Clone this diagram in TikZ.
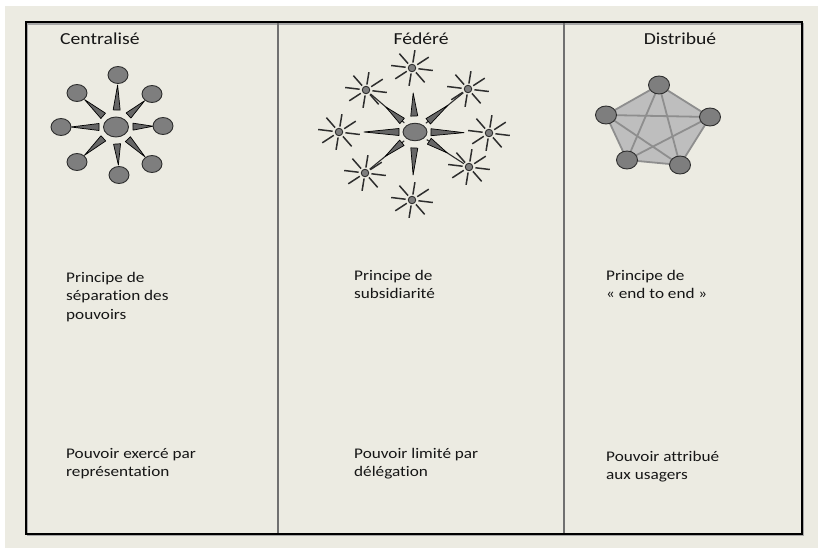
\documentclass[tikz,border=0pt]{standalone}
\usepackage{fontspec}
\setmainfont{Carlito}[FakeStretch=1.17, Ligatures=NoCommon]
\usetikzlibrary{calc,shapes.geometric}
\definecolor{bgbeige}{HTML}{ECEBE2}
\definecolor{nodegray}{HTML}{7E7E7E}
\definecolor{edgedark}{HTML}{2E2E2E}
\definecolor{txtcol}{HTML}{161616}
\definecolor{pentafill}{HTML}{BEBEBE}
\definecolor{linkgray}{HTML}{8E8E8E}
\definecolor{divgray}{HTML}{707070}
\definecolor{wedgefill}{HTML}{666666}
\pgfdeclarelayer{backlayer}
\pgfdeclarelayer{linklayer}
\pgfsetlayers{backlayer,linklayer,main}
\tikzset{
  ball/.style={ellipse, draw=edgedark, fill=nodegray, line width=0.9pt, inner sep=0pt,
    minimum width=20pt, minimum height=17pt},
  bigball/.style={ball, minimum width=25pt, minimum height=20pt},
  fedball/.style={ball, minimum width=24pt, minimum height=17.5pt},
  distball/.style={ball, minimum width=21pt, minimum height=18pt},
  starhub/.style={circle, draw=edgedark, fill=nodegray, line width=0.9pt, inner sep=0pt, minimum size=7.5pt},
  starray/.style={draw=edgedark, line width=1.5pt},
  wedgestyle/.style={fill=wedgefill, draw=black, line width=0.7pt, line join=round},
  conn/.style={draw=edgedark, line width=1.1pt},
  link/.style={draw=linkgray, line width=1.8pt},
  title/.style={font=\fontsize{16.8}{20}\selectfont, text=txtcol, inner sep=0pt},
  body/.style={font=\fontsize{14.7}{18.4}\selectfont, text=txtcol, inner sep=0pt, anchor=north west, align=left},
}
\newcommand\wedgeto[6]{% center, target, base dist from center, apex dist from target, half width
  \path ($(#1)!#3!(#2)$) coordinate (wb) ($(#2)!#4!(#1)$) coordinate (wa);
  \filldraw[wedgestyle] ($(wb)!#5!90:(wa)$) -- (wa) -- ($(wb)!#5!-90:(wa)$) -- cycle;}
\newcommand\starat[2]{% name, position
  \node[starhub] (#1) at #2 {};
  \foreach \a in {0,45,...,315}
    \draw[starray] ($(#1.center)+({\a+8}:6.5 and 5.5)$) -- ($(#1.center)+({\a+8}:21 and 18)$);}
\begin{document}
\begin{tikzpicture}[x=1pt,y=-1pt]
\useasboundingbox (0,0) rectangle (818,548);
\begin{pgfonlayer}{backlayer}
  \fill[white] (0,0) rectangle (818,548);
  \fill[bgbeige] (5,6) rectangle (818,548);
  \draw[black!35, line width=1.6pt] (27.5,24) rectangle (803.5,535.5);
  \draw[divgray, line width=1.3pt] (278,22) -- (278,534);
  \draw[divgray, line width=1.3pt] (564,22) -- (564,534);
  \draw[black, line width=1.6pt] (26,22) rectangle (802,534);
\end{pgfonlayer}

% titles
\node[title, anchor=base west] (t1) at (60,45) {Centralisé};
\node[title, anchor=base] (t2) at (421,45) {Fédéré};
\node[title, anchor=base] (t3) at (680,45) {Distribué};

% texts
\node[body] (p1) at (66,269) {\rule{0pt}{13pt}Principe de\\séparation des\\pouvoirs};
\node[body] (q1) at (66,445) {\rule{0pt}{13pt}Pouvoir exercé par\\représentation};
\node[body] (p2) at (354,267) {\rule{0pt}{13pt}Principe de\\subsidiarité};
\node[body] (q2) at (354,445) {\rule{0pt}{13pt}Pouvoir limité par\\délégation};
\node[body] (p3) at (606,267) {\rule{0pt}{13pt}Principe de\\« end to end »};
\node[body] (q3) at (606,448) {\rule{0pt}{13pt}Pouvoir attribué\\aux usagers};

% Centralise
\node[bigball] (c0) at (116,127) {};
\node[ball] (c1) at (118,75) {};
\node[ball] (c2) at (152,94) {};
\node[ball] (c3) at (163,126) {};
\node[ball] (c4) at (152,164) {};
\node[ball] (c5) at (119,175) {};
\node[ball] (c6) at (77,162) {};
\node[ball] (c7) at (61,127) {};
\node[ball] (c8) at (77,93) {};
\begin{pgfonlayer}{linklayer}
  \foreach \i in {1,...,8} {\wedgeto{c0.center}{c\i.center}{17pt}{10pt}{3.5pt}{}}
\end{pgfonlayer}

% Federe
\node[fedball] (f0) at (415,132) {};
\starat{f1}{(412,68)}
\starat{f2}{(468,89)}
\starat{f3}{(489,133)}
\starat{f4}{(469,167)}
\starat{f5}{(412,200)}
\starat{f6}{(365,173)}
\starat{f7}{(339,132)}
\starat{f8}{(366,90)}
\begin{pgfonlayer}{linklayer}
  \foreach \i in {2,4,6,8} {\draw[conn, shorten <=14pt, shorten >=6pt] (f0.center) -- (f\i.center);}
  \foreach \i in {1,3,5,7} {\wedgeto{f0.center}{f\i.center}{16pt}{25pt}{3.5pt}{}}
  \foreach \i in {2,4,6,8} {\wedgeto{f0.center}{f\i.center}{17pt}{26pt}{3.5pt}{}}
\end{pgfonlayer}

% Distribue
\node[distball] (d1) at (659,85) {};
\node[distball] (d2) at (710,117) {};
\node[distball] (d3) at (680,165) {};
\node[distball] (d4) at (627,160) {};
\node[distball] (d5) at (606,115) {};
\begin{pgfonlayer}{linklayer}
  \filldraw[fill=pentafill, link, line join=round] (d1.center) -- (d2.center) -- (d3.center) -- (d4.center) -- (d5.center) -- cycle;
  \draw[link] (d1.center) -- (d3.center);
  \draw[link] (d1.center) -- (d4.center);
  \draw[link] (d2.center) -- (d4.center);
  \draw[link] (d2.center) -- (d5.center);
  \draw[link] (d3.center) -- (d5.center);
\end{pgfonlayer}
\end{tikzpicture}
\end{document}
